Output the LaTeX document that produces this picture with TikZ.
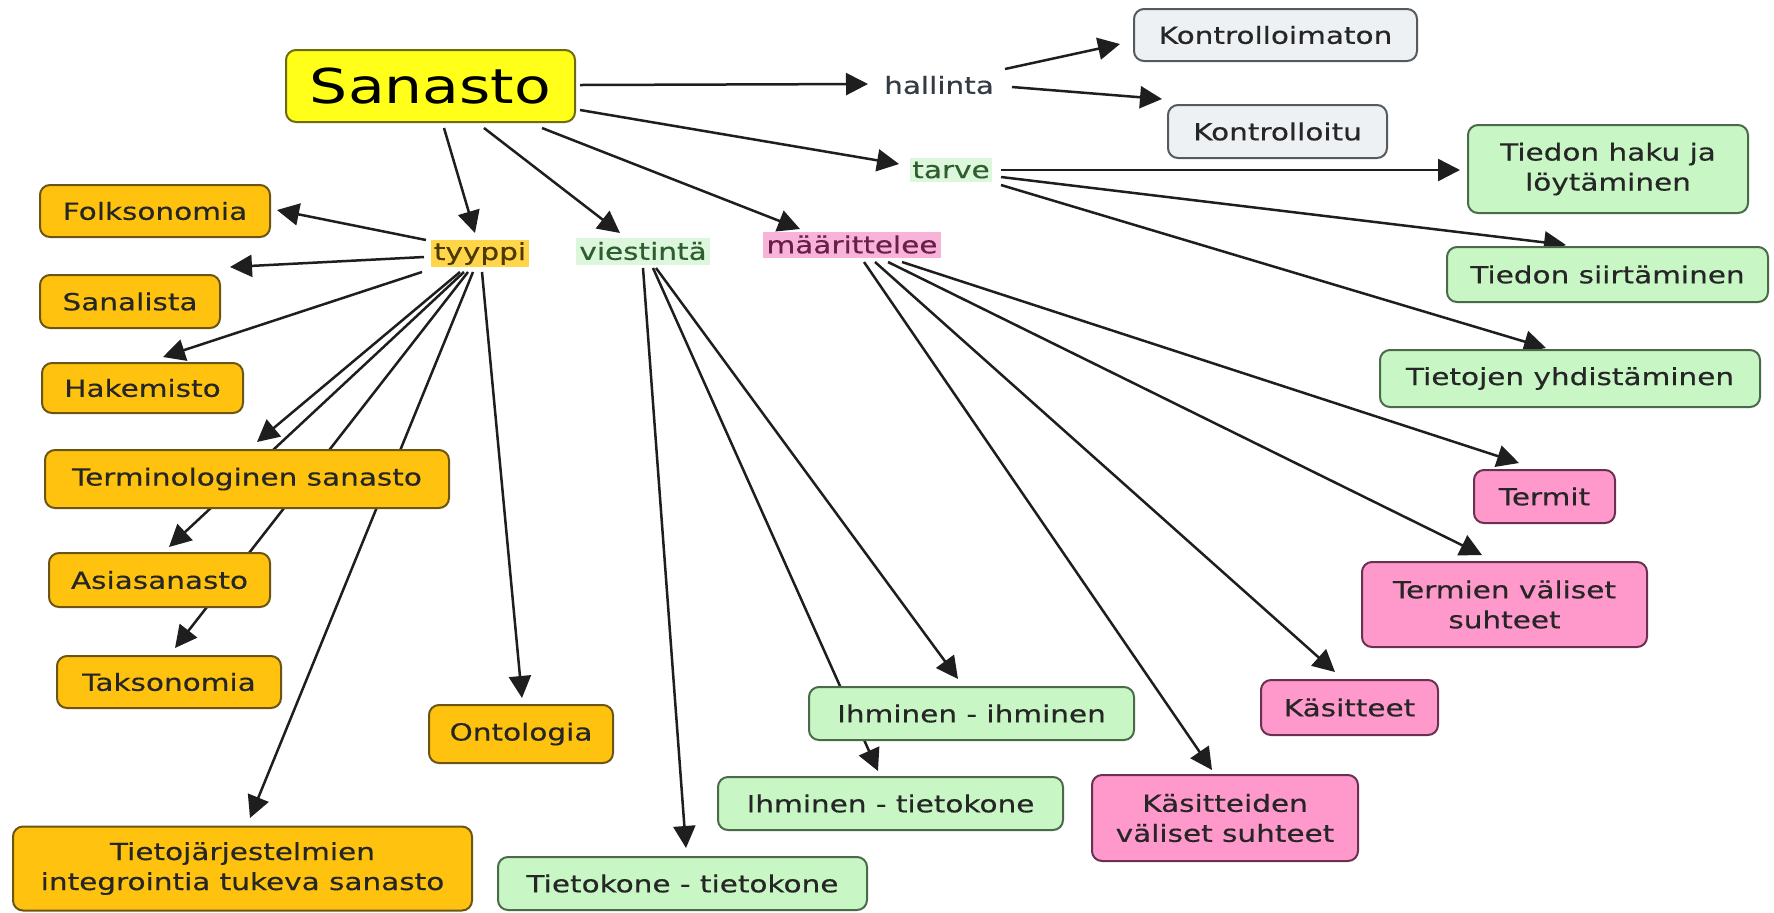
\documentclass[tikz,border=0pt]{standalone}
\usepackage{fontspec}
\setmainfont[FakeStretch=1.25,FakeBold=0.4]{DejaVu Sans}
\newfontfamily\titlefont[FakeStretch=1.25]{DejaVu Sans}
\usetikzlibrary{arrows.meta,backgrounds}
\definecolor{yel}{HTML}{FFFF1A}
\definecolor{ybrd}{HTML}{6E6A10}
\definecolor{org}{HTML}{FFC30F}
\definecolor{obrd}{HTML}{6B5414}
\definecolor{grn}{HTML}{C8F7C5}
\definecolor{gbrd}{HTML}{4A6A4A}
\definecolor{pnk}{HTML}{FF99CC}
\definecolor{pbrd}{HTML}{6A3050}
\definecolor{gry}{HTML}{EDF1F4}
\definecolor{grbrd}{HTML}{555A5E}
\definecolor{txt}{HTML}{262626}
\definecolor{arrc}{HTML}{1E1E1E}
\definecolor{tylbl}{HTML}{FFD54A}
\definecolor{tytxt}{HTML}{4D3800}
\definecolor{gnlbl}{HTML}{DDF7DD}
\definecolor{gntxt}{HTML}{2E5E2E}
\definecolor{pklbl}{HTML}{F7B3D8}
\definecolor{pktxt}{HTML}{6B1E4A}
\definecolor{hltxt}{HTML}{333C44}
\tikzset{
  box/.style={rounded corners=5pt, line width=1pt, inner sep=0pt, align=center,
    font=\fontsize{11.8}{15}\selectfont, text=txt},
  sz/.style 2 args={minimum width=#1*0.5pt, minimum height=#2*0.5pt},
  ybox/.style={box, fill=yel, draw=ybrd, font=\titlefont\fontsize{24}{28}\selectfont, text=black},
  obox/.style={box, fill=org, draw=obrd},
  gbox/.style={box, fill=grn, draw=gbrd},
  pbox/.style={box, fill=pnk, draw=pbrd},
  kbox/.style={box, fill=gry, draw=grbrd},
  lbl/.style={inner sep=0pt, font=\fontsize{11.8}{15}\selectfont},
  arr/.style={line width=1.25pt, draw=arrc, -{Triangle[length=11pt,width=11pt]}},
}
\begin{document}
\begin{tikzpicture}[x=0.5pt,y=-0.5pt]
\useasboundingbox (0,0) rectangle (1774,912);

% main node
\node[ybox, sz={289}{72}] (sanasto) at (430.5,86) {Sanasto};

% linking labels
\node[lbl, fill=tylbl, text=tytxt, sz={98}{27}] (tyyppi) at (480,253.5) {tyyppi};
\node[lbl, fill=gnlbl, text=gntxt, sz={134}{27}] (viestinta) at (643,251) {viestintä};
\node[lbl, fill=pklbl, text=pktxt, sz={178}{26}] (maarittelee) at (852,244.5) {määrittelee};
\node[lbl, fill=white, text=hltxt, sz={111}{26}] (hallinta) at (939,85) {hallinta};
\node[lbl, fill=gnlbl, text=gntxt, sz={82}{24}] (tarve) at (951,170) {tarve};

% grey concepts
\node[kbox, sz={283}{52}] (kontrolloimaton) at (1275.5,35) {Kontrolloimaton};
\node[kbox, sz={219}{53}] (kontrolloitu) at (1277.5,131.5) {Kontrolloitu};

% green concepts
\node[gbox, sz={280}{88}] (tiedonhaku) at (1608,169) {Tiedon haku ja\\löytäminen};
\node[gbox, sz={321}{55}] (siirtaminen) at (1607.5,274.5) {Tiedon siirtäminen};
\node[gbox, sz={380}{57}] (yhdistaminen) at (1570,378.5) {Tietojen yhdistäminen};
\node[gbox, sz={325}{53}] (ihih) at (971.5,713.5) {Ihminen - ihminen};
\node[gbox, sz={345}{53}] (ihtk) at (890.5,803.5) {Ihminen - tietokone};
\node[gbox, sz={369}{53}] (tktk) at (682.5,883.5) {Tietokone - tietokone};

% pink concepts
\node[pbox, sz={141}{53}] (termit) at (1544.5,496.5) {Termit};
\node[pbox, sz={285}{85}] (termienvaliset) at (1504.5,604.5) {Termien väliset\\suhteet};
\node[pbox, sz={177}{55}] (kasitteet) at (1349.5,707.5) {Käsitteet};
\node[pbox, sz={266}{86}] (kasitteidenvaliset) at (1225,818) {Käsitteiden\\väliset suhteet};

% orange concepts
\node[obox, sz={230}{52}] (folksonomia) at (155,211) {Folksonomia};
\node[obox, sz={180}{53}] (sanalista) at (130,301.5) {Sanalista};
\node[obox, sz={201}{50}] (hakemisto) at (142.5,388) {Hakemisto};
\node[obox, sz={404}{58}] (terminologinen) at (247,479) {Terminologinen sanasto};
\node[obox, sz={221}{54}] (asiasanasto) at (159.5,580) {Asiasanasto};
\node[obox, sz={224}{52}] (taksonomia) at (169,682) {Taksonomia};
\node[obox, sz={184}{58}] (ontologia) at (521,734) {Ontologia};
\node[obox, sz={459}{84}] (tietojarj) at (242.5,868.5) {Tietojärjestelmien\\integrointia tukeva sanasto};

\begin{pgfonlayer}{background}
\fill[white] (0,0) rectangle (1774,912);
% from Sanasto
\draw[arr] ([shift={(149.5,-1)}]sanasto.center) -- ([shift={(-71,-1)}]hallinta.center);
\draw[arr] ([shift={(149.5,24)}]sanasto.center) -- ([shift={(-52,-6)}]tarve.center);
\draw[arr] ([shift={(13.5,42)}]sanasto.center) -- ([shift={(-5,-20.5)}]tyyppi.center);
\draw[arr] ([shift={(53.5,42)}]sanasto.center) -- ([shift={(-23,-18)}]viestinta.center);
\draw[arr] ([shift={(111.5,42)}]sanasto.center) -- ([shift={(-52,-15.5)}]maarittelee.center);
% hallinta
\draw[arr] ([shift={(66,-16)}]hallinta.center) -- ([shift={(-155.5,9)}]kontrolloimaton.center);
\draw[arr] ([shift={(73,2)}]hallinta.center) -- ([shift={(-115.5,-32.5)}]kontrolloitu.center);
% tarve
\draw[arr] ([shift={(50,0)}]tarve.center) -- ([shift={(-148,1)}]tiedonhaku.center);
\draw[arr] ([shift={(50,7)}]tarve.center) -- ([shift={(-41.5,-29.5)}]siirtaminen.center);
\draw[arr] ([shift={(50,15)}]tarve.center) -- ([shift={(-24,-30.5)}]yhdistaminen.center);
% tyyppi
\draw[arr] ([shift={(-54,-13.5)}]tyyppi.center) -- ([shift={(122,-1)}]folksonomia.center);
\draw[arr] ([shift={(-56,3.5)}]tyyppi.center) -- ([shift={(100,-34.5)}]sanalista.center);
\draw[arr] ([shift={(-58,18.5)}]tyyppi.center) -- ([shift={(20.5,-31)}]hakemisto.center);
\draw[arr] ([shift={(-20,18.5)}]tyyppi.center) -- ([shift={(10,-37)}]terminologinen.center);
\draw[arr] ([shift={(-16,18.5)}]tyyppi.center) -- ([shift={(9.5,-33)}]asiasanasto.center);
\draw[arr] ([shift={(-12,18.5)}]tyyppi.center) -- ([shift={(6,-34)}]taksonomia.center);
\draw[arr] ([shift={(-7,18.5)}]tyyppi.center) -- ([shift={(7.5,-50.5)}]tietojarj.center);
\draw[arr] ([shift={(2,18.5)}]tyyppi.center) -- ([shift={(1,-36)}]ontologia.center);
% viestinta
\draw[arr] ([shift={(0,17)}]viestinta.center) -- ([shift={(3.5,-35.5)}]tktk.center);
\draw[arr] ([shift={(10,17)}]viestinta.center) -- ([shift={(-12.5,-32.5)}]ihtk.center);
\draw[arr] ([shift={(13,17)}]viestinta.center) -- ([shift={(-13.5,-34.5)}]ihih.center);
% maarittelee
\draw[arr] ([shift={(12,17.5)}]maarittelee.center) -- ([shift={(-13,-48)}]kasitteidenvaliset.center);
\draw[arr] ([shift={(23,17.5)}]maarittelee.center) -- ([shift={(-14.5,-35.5)}]kasitteet.center);
\draw[arr] ([shift={(36,17.5)}]maarittelee.center) -- ([shift={(-22.5,-49.5)}]termienvaliset.center);
\draw[arr] ([shift={(50,17.5)}]maarittelee.center) -- ([shift={(-25.5,-33.5)}]termit.center);
\end{pgfonlayer}
\end{tikzpicture}
\end{document}
